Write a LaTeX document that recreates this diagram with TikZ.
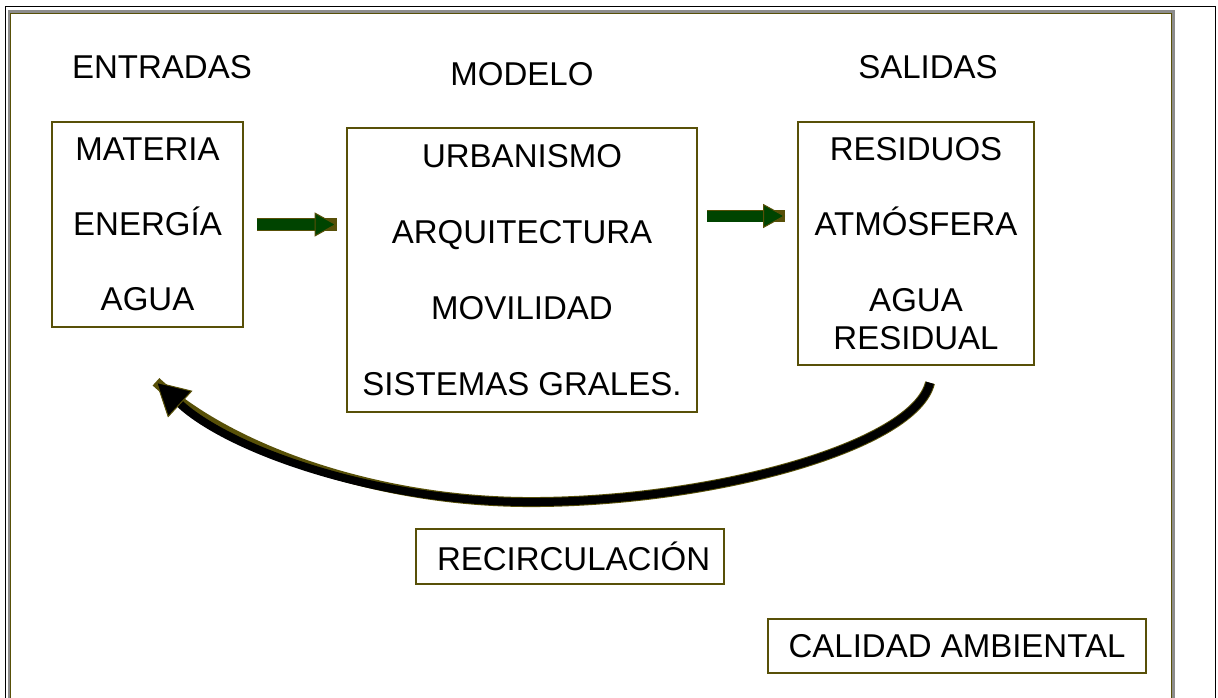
\documentclass[tikz,border=0pt]{standalone}
\usepackage{fontspec}
\setmainfont{Liberation Sans}
\usepackage{tikz}
\usetikzlibrary{arrows.meta,positioning,calc}
\usepackage{xcolor}
\definecolor{boxolive}{RGB}{88,80,8}
\definecolor{framegray}{RGB}{140,140,140}
\definecolor{arrgreen}{RGB}{0,68,0}

\begin{document}
\begin{tikzpicture}[
  x=1pt, y=-1pt,
  every node/.style={font=\fontsize{33}{38}\selectfont},
  box/.style={draw=boxolive, line width=1.6pt, align=center, inner sep=0pt},
  title/.style={inner sep=0pt},
  fatarr/.style={-{Triangle[length=22pt,width=24pt,color=boxolive,fill=arrgreen,line width=1pt]},
    line width=11pt, draw=arrgreen, preaction={draw=boxolive, line width=12.5pt, -}},
  recarr/.style={-{Triangle[length=33pt,width=36pt,color=boxolive,fill=black,line width=1pt]},
    line width=8pt, draw=black, preaction={draw=boxolive, line width=10pt, -}},
]
\useasboundingbox (0,0) rectangle (1218,698);

% page frame
\draw[black, line width=1pt] (5,698) -- (5,7) -- (1215,7) -- (1215,698);
\draw[framegray, line width=3pt] (9,698) -- (9,12) -- (1173,12) -- (1173,698);
\draw[boxolive, line width=1.2pt] (10.5,698) -- (10.5,13.5) -- (1171.5,13.5) -- (1171.5,698);

\node[title] (tent) at (162,67) {ENTRADAS};
\node[title] (tmod) at (522,74) {MODELO};
\node[title] (tsal) at (928,67) {SALIDAS};

\node[box, minimum width=191pt, minimum height=205pt] (ent) at (147.5,224.5)
  {MATERIA\\[37pt]ENERGÍA\\[37pt]AGUA};
\node[box, line width=2.6pt, minimum width=350pt, minimum height=284pt] (mod) at (522,270)
  {URBANISMO\\[38pt]ARQUITECTURA\\[38pt]MOVILIDAD\\[38pt]SISTEMAS GRALES.};
\node[box, minimum width=236pt, minimum height=243pt] (sal) at (916,243.5)
  {RESIDUOS\\[37pt]ATMÓSFERA\\[38pt]AGUA\\RESIDUAL};

\node[box, line width=1.2pt, text width=266pt, inner xsep=21pt, align=left,
  minimum height=55pt] (rec) at (570,556.5) {RECIRCULACIÓN};
\node[box, line width=1.4pt, minimum width=378pt, minimum height=54pt] (cal) at (957,646)
  {CALIDAD AMBIENTAL};

\draw[fatarr, shorten <=13pt, shorten >=9pt] (ent.east) -- (ent.east -| mod.west);
\draw[fatarr, shorten <=9pt, shorten >=12pt] ([yshift=27.5pt]sal.west -| mod.east) -- ([yshift=27.5pt]sal.west);

% recirculation back to the inputs
\draw[recarr] ([xshift=14pt,yshift=-17pt]sal.south)
  .. controls (915,445) and (720,500) .. (540,502)
  .. controls (380,504) and (230,450) .. ([xshift=8.5pt,yshift=-54pt]ent.south);
\end{tikzpicture}
\end{document}
